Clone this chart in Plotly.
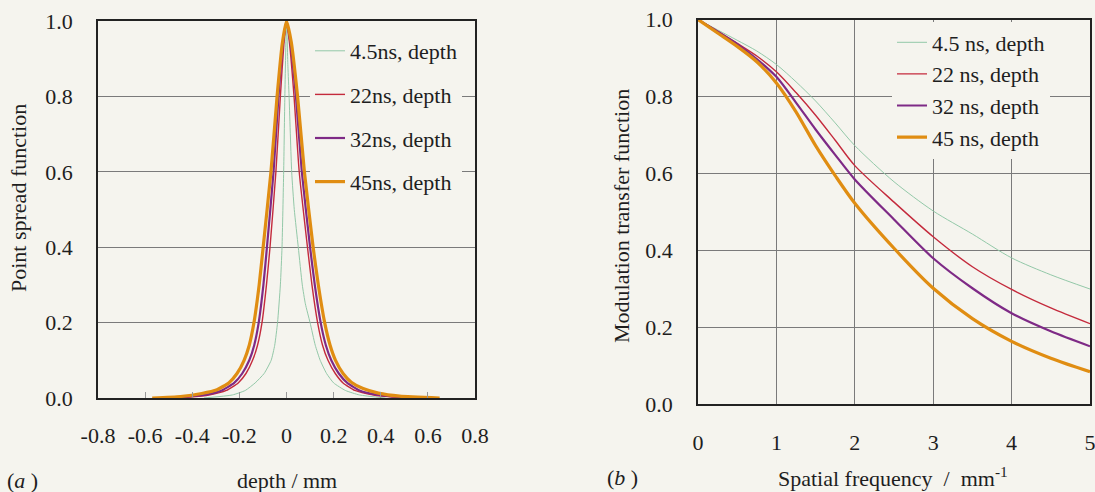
import plotly.graph_objects as go

W, H = 1095, 492
BG = "#f5f4ee"
SERIF = "Liberation Serif, Times New Roman, serif"
TXT = "#1e1e1e"

# ---------------- data: (a) point spread function ----------------
psf_names = ["4.5ns, depth", "22ns, depth", "32ns, depth", "45ns, depth"]

psf_45_x = [-0.57, -0.45, -0.36, -0.295, -0.245, -0.21, -0.18, -0.158, -0.138, -0.116, -0.099,
            -0.066, -0.04, -0.018, 0.0, 0.02, 0.047, 0.076, 0.113, 0.135, 0.162, 0.185, 0.208,
            0.24, 0.275, 0.325, 0.39, 0.48, 0.65]
psf_45_y = [0.0, 0.004, 0.012, 0.022, 0.04, 0.065, 0.1, 0.14, 0.2, 0.3, 0.4,
            0.6, 0.8, 0.94, 1.0, 0.945, 0.8, 0.6, 0.4, 0.3, 0.2, 0.14, 0.1,
            0.065, 0.042, 0.025, 0.013, 0.005, 0.0]

psf_32_x = [-0.5, -0.35, -0.275, -0.222, -0.188, -0.158, -0.137, -0.118, -0.098, -0.083, -0.055,
            -0.034, -0.015, 0.0, 0.017, 0.04, 0.065, 0.1, 0.12, 0.145, 0.167, 0.19, 0.222,
            0.258, 0.31, 0.39, 0.53]
psf_32_y = [0.0, 0.008, 0.02, 0.04, 0.065, 0.1, 0.14, 0.2, 0.3, 0.4, 0.6,
            0.8, 0.94, 1.0, 0.94, 0.8, 0.6, 0.4, 0.3, 0.2, 0.14, 0.1, 0.065,
            0.04, 0.02, 0.008, 0.0]

psf_22_x = [-0.45, -0.33, -0.255, -0.205, -0.172, -0.144, -0.123, -0.104, -0.085, -0.07, -0.045,
            -0.026, -0.011, 0.0, 0.013, 0.032, 0.054, 0.089, 0.108, 0.132, 0.153, 0.176, 0.207,
            0.24, 0.29, 0.37, 0.5]
psf_22_y = [0.0, 0.008, 0.02, 0.04, 0.065, 0.1, 0.14, 0.2, 0.3, 0.4, 0.6,
            0.8, 0.94, 1.0, 0.94, 0.8, 0.6, 0.4, 0.3, 0.2, 0.14, 0.1, 0.065,
            0.04, 0.02, 0.008, 0.0]

psf_4_x = [-0.35, -0.23, -0.175, -0.133, -0.095, -0.065, -0.05, -0.038, -0.026, -0.019, -0.012,
           -0.007, 0.0, 0.006, 0.011, 0.022, 0.033, 0.05, 0.067, 0.08, 0.1, 0.122, 0.143,
           0.17, 0.2, 0.25, 0.31, 0.42]
psf_4_y = [0.0, 0.008, 0.02, 0.04, 0.065, 0.1, 0.14, 0.2, 0.3, 0.4, 0.6,
           0.8, 1.0, 0.88, 0.8, 0.6, 0.5, 0.4, 0.3, 0.25, 0.2, 0.14, 0.1,
           0.065, 0.04, 0.02, 0.008, 0.0]

# ---------------- data: (b) modulation transfer function ----------------
mtf_names = ["4.5 ns, depth", "22 ns, depth", "32 ns, depth", "45 ns, depth"]
freq = [0, 0.25, 0.5, 0.75, 1.0, 1.25, 1.5, 1.75, 2.0, 2.5, 3.0, 3.5, 4.0, 4.5, 5.0]
mtf_4 = [1.0, 0.973, 0.946, 0.918, 0.883, 0.838, 0.788, 0.731, 0.672, 0.578, 0.502, 0.442, 0.38, 0.336, 0.299]
mtf_22 = [1.0, 0.97, 0.938, 0.905, 0.864, 0.81, 0.751, 0.686, 0.62, 0.525, 0.435, 0.357, 0.298, 0.25, 0.209]
mtf_32 = [1.0, 0.968, 0.936, 0.897, 0.851, 0.784, 0.714, 0.648, 0.584, 0.48, 0.379, 0.301, 0.236, 0.189, 0.15]
mtf_45 = [1.0, 0.965, 0.93, 0.89, 0.835, 0.76, 0.672, 0.594, 0.522, 0.405, 0.301, 0.222, 0.163, 0.119, 0.084]

psf_ticks = [-0.8, -0.6, -0.4, -0.2, 0, 0.2, 0.4, 0.6, 0.8]
psf_ticktext = ["-0.8", "-0.6", "-0.4", "-0.2", "0", "0.2", "0.4", "0.6", "0.8"]
y_ticks = [0, 0.2, 0.4, 0.6, 0.8, 1.0]
freq_ticks = [0, 1, 2, 3, 4, 5]

colors = ["#93c8a8", "#c42a3c", "#7e2a86", "#e08d12"]
widths = [1.0, 1.4, 2.2, 3.2]

psf_x = [psf_4_x, psf_22_x, psf_32_x, psf_45_x]
psf_y = [psf_4_y, psf_22_y, psf_32_y, psf_45_y]
mtf_y = [mtf_4, mtf_22, mtf_32, mtf_45]

fig = go.Figure()
for i in range(4):
    fig.add_trace(go.Scatter(
        x=psf_x[i], y=psf_y[i], mode="lines", name=psf_names[i],
        line=dict(color=colors[i], width=widths[i], shape="spline", smoothing=0.5),
        xaxis="x", yaxis="y", legend="legend", legendgroup="a%d" % i))
for i in range(4):
    fig.add_trace(go.Scatter(
        x=freq, y=mtf_y[i], mode="lines", name=mtf_names[i],
        line=dict(color=colors[i], width=widths[i], shape="spline", smoothing=0.8),
        xaxis="x2", yaxis="y2", legend="legend2", legendgroup="b%d" % i))

def px(x):
    return x / W

def py(y):
    return 1 - y / H

axis_common = dict(showline=True, linecolor="#222", linewidth=1.5, mirror=True,
                   zeroline=False, ticklabeloverflow="allow",
                   tickfont=dict(family=SERIF, size=22, color=TXT))

fig.update_layout(
    width=W, height=H, margin=dict(l=0, r=0, t=0, b=0, autoexpand=False),
    paper_bgcolor=BG, plot_bgcolor=BG,
    font=dict(family=SERIF, size=22, color=TXT),
    showlegend=True,
    xaxis=dict(domain=[px(98), px(475)], range=[-0.8, 0.8], tickvals=psf_ticks, ticktext=psf_ticktext,
               ticks="inside", ticklen=6, tickcolor="#999", showgrid=False, anchor="y",
               ticklabelstandoff=17, **axis_common),
    yaxis=dict(domain=[py(398), py(21)], range=[0, 1], tickvals=y_ticks, tickformat=".1f",
               showgrid=True, gridcolor="#7a7a7a", gridwidth=1, ticks="", anchor="x",
               ticklabelstandoff=19, **axis_common),
    xaxis2=dict(domain=[px(698), px(1090)], range=[0, 5], tickvals=freq_ticks,
                showgrid=True, gridcolor="#7a7a7a", gridwidth=1, ticks="", anchor="y2",
                ticklabelstandoff=18, **axis_common),
    yaxis2=dict(domain=[py(404), py(19.5)], range=[0, 1], tickvals=y_ticks, tickformat=".1f",
                showgrid=True, gridcolor="#7a7a7a", gridwidth=1, ticks="", anchor="x2",
                ticklabelstandoff=19, **axis_common),
    legend=dict(x=px(310), y=py(30), xanchor="left", yanchor="top", bgcolor=BG,
                borderwidth=0, tracegroupgap=12, font=dict(family=SERIF, size=22, color=TXT)),
    legend2=dict(x=px(892), y=py(21.5), xanchor="left", yanchor="top", bgcolor=BG,
                 borderwidth=0, tracegroupgap=0, font=dict(family=SERIF, size=22, color=TXT)),
)

ann = [
    ("(<i>a</i> )", 22, 480, 0),
    ("depth / mm", 287, 480, 0),
    ("Point spread function", 18, 198, -90),
    ("(<i>b</i> )", 622, 477, 0),
    ("Spatial frequency \u00a0/\u00a0 mm<sup>-1</sup>", 893, 477, 0),
    ("Modulation transfer function", 622, 216, -90),
]
for text, x, y, ang in ann:
    fig.add_annotation(text=text, x=px(x), y=py(y), xref="paper", yref="paper",
                       xanchor="center", yanchor="middle", showarrow=False, textangle=ang,
                       font=dict(family=SERIF, size=22, color=TXT))

fig.write_html(
    "out.html",
    config={"displayModeBar": False},
    post_script="document.documentElement.style.margin='0';document.body.style.margin='0';"
                "document.body.style.padding='0';document.body.style.overflow='hidden';"
                "document.body.style.background='%s';" % BG,
)
